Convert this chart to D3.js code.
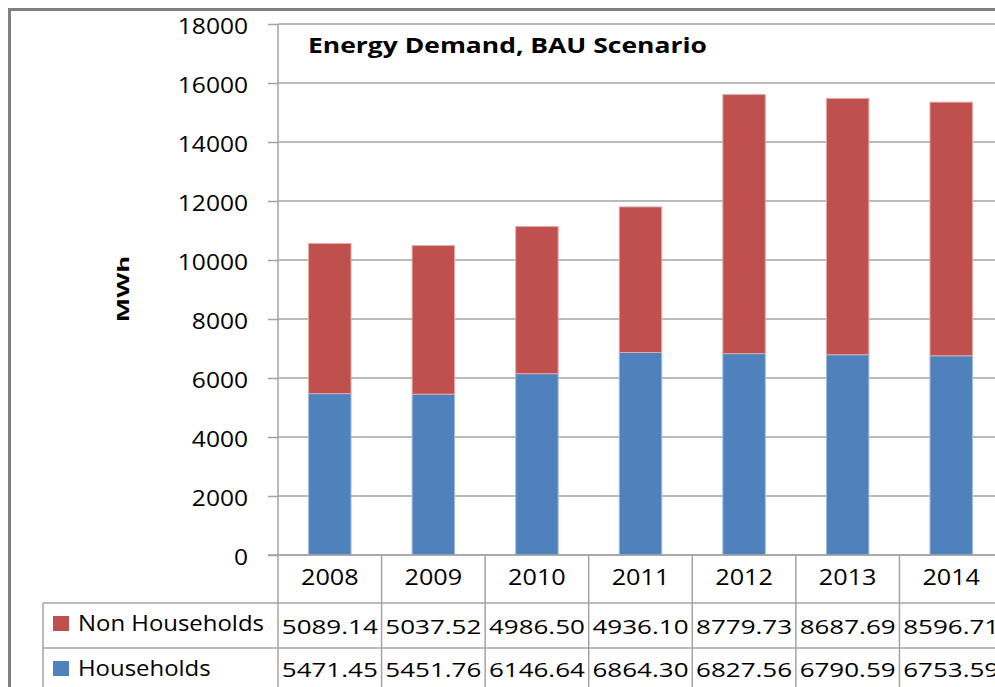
<!DOCTYPE html>
<html>
<head>
<meta charset="utf-8">
<script src="https://cdn.jsdelivr.net/npm/d3@7"></script>
<style>
  html, body { margin: 0; padding: 0; background: #fff; }
  svg { display: block; }
  text { font-family: "Open Sans", sans-serif; fill: #000; }
</style>
</head>
<body>
<svg id="chart" width="995" height="687"></svg>
<script>
// chart data
const years = ["2008", "2009", "2010", "2011", "2012", "2013", "2014"];
const households = [5471.45, 5451.76, 6146.64, 6864.30, 6827.56, 6790.59, 6753.59];
const nonHouseholds = [5089.14, 5037.52, 4986.50, 4936.10, 8779.73, 8687.69, 8596.71];
const yTicks = [0, 2000, 4000, 6000, 8000, 10000, 12000, 14000, 16000, 18000];
const seriesNames = ["Non Households", "Households"];

const colors = { "Households": "#4F81BD", "Non Households": "#C0504D" };
const edges = { "Households": "#9fbbe0", "Non Households": "#e2a9a7" };
const gridColor = "#a3a3a3";
const frameColor = "#808080";

const svg = d3.select("#chart");

// plot area (the chart is cropped on the right and the bottom)
const plot = { left: 278, top: 24, bottom: 555, right: 1003 };
const table = { left: 43, head: 603, row2: 648, bottom: 700 };

const x = d3.scaleBand().domain(years).range([plot.left, plot.right]).padding(0);
const y = d3.scaleLinear().domain([0, 18000]).range([plot.bottom, plot.top]);
const barW = x.bandwidth() * 0.41;

// widen glyphs horizontally around the anchor point
function stretch(sel, sx) {
  sel.each(function () {
    const t = d3.select(this);
    const x0 = +t.attr("x") || 0;
    t.attr("transform", `translate(${x0},0) scale(${sx},1) translate(${-x0},0)`);
  });
}

// outer frame
svg.append("path")
  .attr("d", `M9.5,${700} V9.5 H1000`)
  .attr("fill", "none")
  .attr("stroke", frameColor)
  .attr("stroke-width", 3);

// gridlines
svg.append("g")
  .selectAll("line")
  .data(yTicks)
  .join("line")
  .attr("x1", plot.left)
  .attr("x2", plot.right)
  .attr("y1", d => y(d))
  .attr("y2", d => y(d))
  .attr("stroke", gridColor)
  .attr("stroke-width", 1.5);

// y axis
const yAxis = svg.append("g")
  .attr("transform", `translate(${plot.left},0)`)
  .call(d3.axisLeft(y).tickValues(yTicks).tickSize(10).tickPadding(20).tickFormat(d3.format("d")));
yAxis.attr("font-family", null).attr("font-size", 21);
yAxis.select(".domain").remove();
yAxis.selectAll(".tick line").attr("stroke", gridColor).attr("stroke-width", 1.5);
yAxis.selectAll(".tick text").attr("dy", "0.43em").attr("fill", "#000");
stretch(yAxis.selectAll(".tick text"), 1.17);

// stacked bars
const rows = years.map((yr, i) => ({ year: yr, "Households": households[i], "Non Households": nonHouseholds[i] }));
const stack = d3.stack().keys(["Households", "Non Households"])(rows);

svg.append("g")
  .selectAll("g")
  .data(stack)
  .join("g")
  .attr("fill", d => colors[d.key])
  .attr("stroke", d => edges[d.key])
  .attr("stroke-width", 1)
  .selectAll("rect")
  .data(d => d)
  .join("rect")
  .attr("x", d => x(d.data.year) + (x.bandwidth() - barW) / 2)
  .attr("width", barW)
  .attr("y", d => y(d[1]))
  .attr("height", d => y(d[0]) - y(d[1]));

// title
const title = svg.append("text")
  .attr("x", 308)
  .attr("y", 53)
  .attr("font-size", 21)
  .attr("font-weight", "bold")
  .text("Energy Demand, BAU Scenario");
stretch(title, 1.26);

// y axis title
svg.append("text")
  .attr("transform", "translate(129,289) rotate(-90) scale(1.62,1)")
  .attr("text-anchor", "middle")
  .attr("font-size", 16)
  .attr("font-weight", "bold")
  .text("MWh");

// data table lines
const tableLines = svg.append("g")
  .attr("stroke", gridColor)
  .attr("stroke-width", 1.5);

tableLines.append("line")
  .attr("x1", plot.left - 10).attr("x2", plot.right)
  .attr("y1", plot.bottom).attr("y2", plot.bottom);

tableLines.selectAll("line.h")
  .data([table.head, table.row2])
  .join("line")
  .attr("class", "h")
  .attr("x1", table.left).attr("x2", plot.right)
  .attr("y1", d => d).attr("y2", d => d);

tableLines.append("line")
  .attr("x1", table.left).attr("x2", table.left)
  .attr("y1", table.head).attr("y2", table.bottom);

tableLines.append("line")
  .attr("x1", plot.left).attr("x2", plot.left)
  .attr("y1", plot.top).attr("y2", table.bottom);

tableLines.selectAll("line.v")
  .data(years.slice(1))
  .join("line")
  .attr("class", "v")
  .attr("x1", d => x(d)).attr("x2", d => x(d))
  .attr("y1", plot.bottom).attr("y2", table.bottom);

// category labels
const xAxis = svg.append("g")
  .attr("transform", `translate(0,${plot.bottom})`)
  .call(d3.axisBottom(x).tickSize(0).tickPadding(15));
xAxis.attr("font-family", null).attr("font-size", 21);
xAxis.select(".domain").remove();
xAxis.selectAll(".tick text").attr("fill", "#000");
stretch(xAxis.selectAll(".tick text"), 1.2);

// legend cells
svg.append("clipPath")
  .attr("id", "legendClip")
  .append("rect")
  .attr("x", table.left)
  .attr("y", table.head)
  .attr("width", 269 - table.left)
  .attr("height", table.bottom - table.head);

const legendRows = [
  { name: seriesNames[0], base: 631, valueBase: 634, values: nonHouseholds },
  { name: seriesNames[1], base: 676, valueBase: 677, values: households }
];

const legend = svg.append("g").attr("clip-path", "url(#legendClip)");
legend.selectAll("rect")
  .data(legendRows)
  .join("rect")
  .attr("x", 53)
  .attr("y", d => d.base - 15)
  .attr("width", 16)
  .attr("height", 15)
  .attr("fill", d => colors[d.name]);

const legendText = legend.selectAll("text")
  .data(legendRows)
  .join("text")
  .attr("x", 78)
  .attr("y", d => d.base)
  .attr("font-size", 21)
  .text(d => d.name);
stretch(legendText, 1.14);

// table values
const fmt = d3.format(".2f");
legendRows.forEach(r => {
  const cells = svg.append("g")
    .selectAll("text")
    .data(years)
    .join("text")
    .attr("x", d => x(d) + x.bandwidth() / 2)
    .attr("y", r.valueBase)
    .attr("text-anchor", "middle")
    .attr("font-size", 20)
    .text((d, i) => fmt(r.values[i]));
  stretch(cells, 1.3);
});
</script>
</body>
</html>
